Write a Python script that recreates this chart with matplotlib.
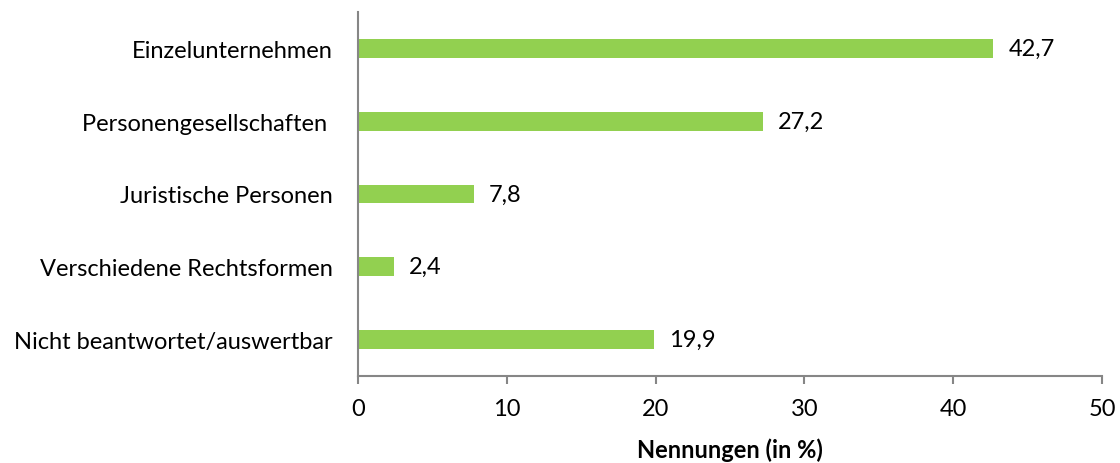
import matplotlib
matplotlib.use("Agg")
import matplotlib.pyplot as plt

categories = ["Einzelunternehmen", "Personengesellschaften ", "Juristische Personen",
              "Verschiedene Rechtsformen", "Nicht beantwortet/auswertbar"]
values = [42.7, 27.2, 7.8, 2.4, 19.9]
value_labels = ["42,7", "27,2", "7,8", "2,4", "19,9"]
xticks = [0, 10, 20, 30, 40, 50]

plt.rcParams['font.family'] = ['Lato', 'DejaVu Sans']
FS = 17

fig = plt.figure(figsize=(11.2, 4.64), dpi=100)
ax = fig.add_axes([358/1120, 1-377/464, (1102-358)/1120, (377-13)/464])

pos = list(range(len(categories)))
bars = ax.barh(pos, values, height=0.26, color="#92d050")
for b, lab in zip(bars, value_labels):
    ax.text(b.get_width() + 1.0, b.get_y() + b.get_height()/2, lab,
            va="center", ha="left", fontsize=FS, color="black")

ax.set_ylim(len(categories) - 0.5, -0.5)
ax.set_xlim(0, 50)
ax.set_yticks(pos)
ax.set_yticklabels(categories, fontsize=FS)
ax.set_xticks(xticks)
ax.set_xticklabels([str(t) for t in xticks], fontsize=FS)
ax.tick_params(axis="y", length=0, pad=18)
ax.tick_params(axis="x", length=6, width=1.5, color="#868686", pad=10)
for s in ["top", "right"]:
    ax.spines[s].set_visible(False)
for s in ["left", "bottom"]:
    ax.spines[s].set_color("#868686")
    ax.spines[s].set_linewidth(1.5)
ax.set_xlabel("Nennungen (in %)", fontsize=FS, fontweight="bold", labelpad=13)

fig.savefig("out.png", dpi=100)
